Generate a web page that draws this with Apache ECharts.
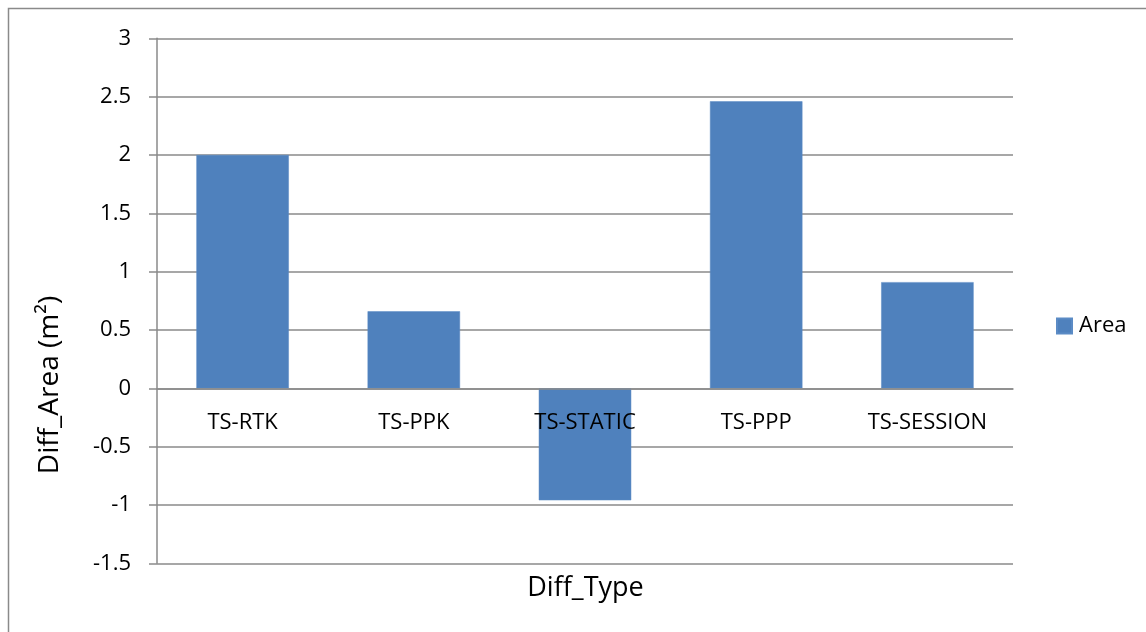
<!DOCTYPE html>
<html>
<head>
<meta charset="utf-8">
<script src="https://cdn.jsdelivr.net/npm/echarts@6/dist/echarts.min.js"></script>
<style>html,body{margin:0;padding:0;background:#fff;}#c{width:1146px;height:632px;}</style>
</head>
<body>
<div id="c"></div>
<script>
var categories = ['TS-RTK', 'TS-PPK', 'TS-STATIC', 'TS-PPP', 'TS-SESSION'];
var areaValues = [2.0, 0.66, -0.96, 2.46, 0.91];
var seriesName = 'Area';
var yTitle = 'Diff_Area (m\u00B2)';
var xTitle = 'Diff_Type';
var yTicks = {min: -1.5, max: 3, step: 0.5};

var FONT = 'Open Sans';
var GRAY = '#8a8a8a';
var TOP = 38.3, BOTTOM = 68.7, H = 632;
var plotH = H - TOP - BOTTOM;
var zeroOffset = -plotH * (0 - yTicks.min) / (yTicks.max - yTicks.min);

var chart = echarts.init(document.getElementById('c'), null, {renderer: 'canvas'});
chart.setOption({
  animation: false,
  backgroundColor: '#fff',
  textStyle: {fontFamily: FONT, color: '#000'},
  grid: {left: 157, right: 133, top: TOP, bottom: BOTTOM, containLabel: false},
  legend: {
    data: [seriesName], left: 1056, top: 315, orient: 'vertical', padding: 0,
    icon: 'rect', itemWidth: 15, itemHeight: 15, itemGap: 0,
    textStyle: {fontFamily: FONT, fontSize: 22, color: '#000', padding: [0, 0, 0, 2]}
  },
  xAxis: {
    type: 'category', data: categories, z: 5, position: 'bottom', offset: zeroOffset,
    axisLine: {onZero: false, lineStyle: {color: GRAY, width: 1.5}},
    axisTick: {show: false},
    axisLabel: {fontFamily: FONT, fontSize: 22, color: '#000', margin: 23, interval: 0}
  },
  yAxis: {
    type: 'value', min: yTicks.min, max: yTicks.max, interval: yTicks.step,
    axisLine: {show: true, lineStyle: {color: GRAY, width: 1.5}},
    axisTick: {show: true, length: 8, lineStyle: {color: GRAY, width: 1.5}},
    axisLabel: {fontFamily: FONT, fontSize: 22, color: '#000', margin: 26},
    splitLine: {show: true, lineStyle: {color: GRAY, width: 1.5}}
  },
  series: [{
    name: seriesName, type: 'bar', data: areaValues,
    barCategoryGap: '46%',
    itemStyle: {color: '#4F81BD', borderColor: '#5B8BC5', borderWidth: 0.5}
  }],
  graphic: [
    {type: 'rect', shape: {x: 8.5, y: 8.5, width: 1200, height: 700}, style: {fill: 'none', stroke: GRAY, lineWidth: 1.5}, silent: true},
    {type: 'text', x: 50, y: 385, rotation: Math.PI / 2,
      style: {text: yTitle, fontFamily: FONT, fontSize: 28, fill: '#000', align: 'center', verticalAlign: 'middle'}},
    {type: 'text', x: 585.5, y: 588,
      style: {text: xTitle, fontFamily: FONT, fontSize: 27, fill: '#000', align: 'center', verticalAlign: 'middle'}}
  ]
});
</script>
</body>
</html>
